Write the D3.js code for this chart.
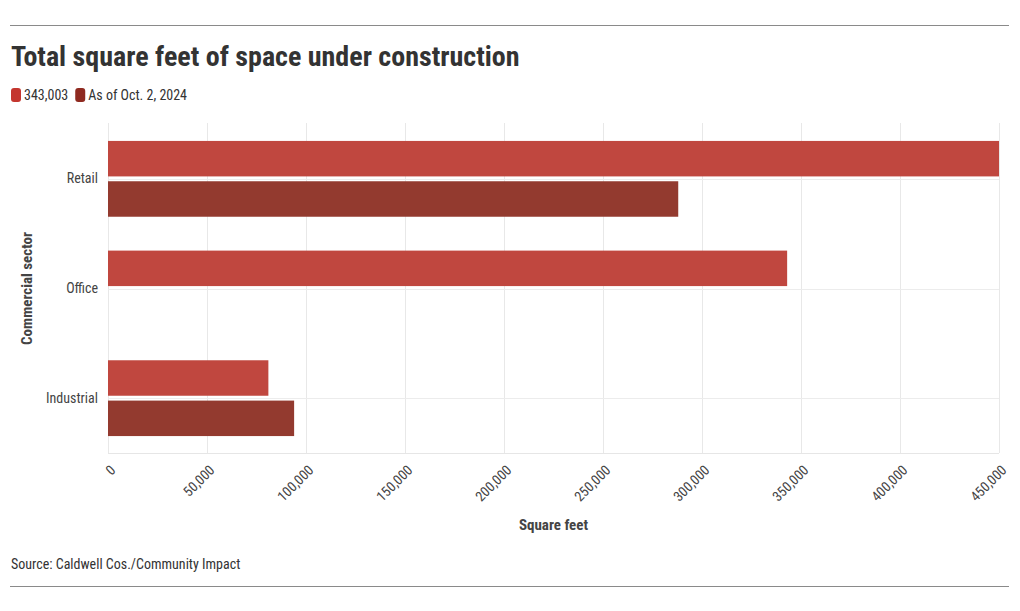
<!DOCTYPE html>
<html>
<head>
<meta charset="utf-8">
<script src="https://cdn.jsdelivr.net/npm/d3@7"></script>
<style>
  html, body { margin: 0; padding: 0; background: #fff; }
  svg { display: block; }
  text { font-family: "Roboto Condensed", "Liberation Sans Narrow", "DejaVu Sans Condensed", Roboto, sans-serif; }
</style>
</head>
<body>
<svg id="chart" width="1020" height="611"></svg>
<script>
const categories = ["Retail", "Office", "Industrial"];
const seriesNames = ["343,003", "As of Oct. 2, 2024"];
const series1 = [450000, 343003, 81000];
const series2 = [288000, null, 94000];
const xTicks = [0, 50000, 100000, 150000, 200000, 250000, 300000, 350000, 400000, 450000];

const barColors = ["#c0473f", "#933a2f"];
const legendColors = ["#c4362f", "#8f2a20"];

const svg = d3.select("#chart");

// rules
svg.append("line").attr("x1", 10).attr("x2", 1009).attr("y1", 25.5).attr("y2", 25.5).attr("stroke", "#8a8a8a").attr("stroke-width", 1);
svg.append("line").attr("x1", 10).attr("x2", 1009).attr("y1", 586.5).attr("y2", 586.5).attr("stroke", "#8a8a8a").attr("stroke-width", 1);

// title
svg.append("text").attr("x", 11).attr("y", 66).attr("font-size", 28).attr("font-weight", "bold").attr("fill", "#333").text("Total square feet of space under construction");

// legend
const leg = svg.append("g");
let lx = 11;
seriesNames.forEach((name, i) => {
  leg.append("rect").attr("x", lx).attr("y", 88).attr("width", 10).attr("height", 14).attr("rx", 3).attr("fill", legendColors[i]);
  const t = leg.append("text").attr("x", lx + 13).attr("y", 100).attr("font-size", 14).attr("fill", "#333").text(name);
  lx += 13 + t.node().getComputedTextLength() + 7;
});

const margin = { left: 108, right: 999, top: 124, bottom: 453 };

const x = d3.scaleLinear().domain([0, 450000]).range([margin.left, margin.right]);
const y = d3.scaleBand().domain(categories).range([margin.top, margin.bottom]);

// grid
const grid = svg.append("g");
grid.selectAll("line.v").data(xTicks).enter().append("line")
  .attr("x1", d => Math.round(x(d)) + 0.5).attr("x2", d => Math.round(x(d)) + 0.5)
  .attr("y1", margin.top - 1).attr("y2", margin.bottom)
  .attr("stroke", "#e8e8e8");
grid.selectAll("line.h").data(categories).enter().append("line")
  .attr("x1", margin.left).attr("x2", margin.right)
  .attr("y1", d => Math.round(y(d) + y.bandwidth() / 2) + 0.5)
  .attr("y2", d => Math.round(y(d) + y.bandwidth() / 2) + 0.5)
  .attr("stroke", "#ececec");
grid.append("line").attr("x1", margin.left).attr("x2", margin.right).attr("y1", margin.bottom + 0.5).attr("y2", margin.bottom + 0.5).attr("stroke", "#e6e6e6");

// bars
const inner = d3.scaleBand().domain([0, 1]).range([0, y.bandwidth()]).paddingInner(0.12).paddingOuter(0.42);
const data = [];
categories.forEach((c, i) => {
  [series1, series2].forEach((s, j) => {
    if (s[i] != null) data.push({ cat: c, k: j, v: s[i] });
  });
});
svg.append("g").selectAll("rect").data(data).enter().append("rect")
  .attr("x", x(0))
  .attr("y", d => y(d.cat) + inner(d.k))
  .attr("width", d => x(d.v) - x(0))
  .attr("height", inner.bandwidth())
  .attr("fill", d => barColors[d.k]);

// y axis labels
const yAxis = d3.axisLeft(y).tickSize(0).tickPadding(10);
const yg = svg.append("g").attr("transform", `translate(${margin.left},0)`).call(yAxis);
yg.select(".domain").remove();
yg.selectAll("text").attr("font-size", 14).attr("fill", "#444").style("font-family", null);

// x axis labels
const xAxis = d3.axisBottom(x).tickValues(xTicks).tickFormat(d3.format(",")).tickSize(0).tickPadding(0);
const xg = svg.append("g").attr("transform", `translate(0,${margin.bottom})`).call(xAxis);
xg.select(".domain").remove();
xg.selectAll("text")
  .attr("font-size", 14).attr("fill", "#444")
  .attr("text-anchor", "end")
  .attr("dy", null).attr("y", 0)
  .attr("transform", "translate(8,18) rotate(-45)")
  .style("font-family", null);

// axis titles
svg.append("text").attr("x", (margin.left + margin.right) / 2).attr("y", 530).attr("text-anchor", "middle")
  .attr("font-size", 15).attr("font-weight", "bold").attr("fill", "#444").text("Square feet");
svg.append("text").attr("transform", `translate(32,${(margin.top + margin.bottom) / 2}) rotate(-90)`).attr("text-anchor", "middle")
  .attr("font-size", 15).attr("font-weight", "bold").attr("fill", "#444").text("Commercial sector");

// source
svg.append("text").attr("x", 11).attr("y", 569).attr("font-size", 14).attr("fill", "#333").text("Source: Caldwell Cos./Community Impact");
</script>
</body>
</html>
